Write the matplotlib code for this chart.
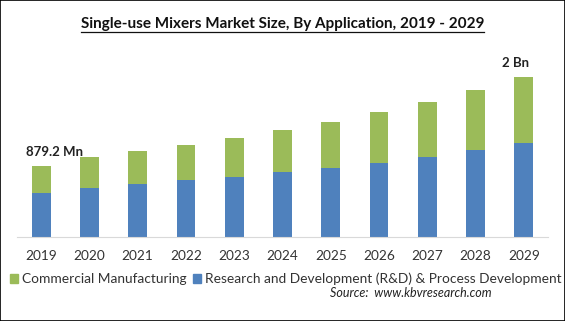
import matplotlib
matplotlib.use("Agg")
import matplotlib.pyplot as plt
from matplotlib.patches import Patch, Rectangle
from matplotlib.lines import Line2D
import numpy as np

plt.rcParams['font.family'] = ['Lato', 'DejaVu Sans']

years = ["2019", "2020", "2021", "2022", "2023", "2024", "2025", "2026", "2027", "2028", "2029"]
rd_process = [548, 607, 660, 706, 743, 805, 858, 920, 990, 1081, 1164]
commercial = [331, 383, 405, 433, 482, 520, 566, 628, 681, 739, 817]
series_names = ["Commercial Manufacturing", "Research and Development (R&D) & Process Development"]
first_label = "879.2 Mn"
last_label = "2 Bn"

green = "#9BBB59"
blue = "#4F81BD"

W, H = 565, 321
fig = plt.figure(figsize=(W / 100, H / 100), dpi=100)
ax = fig.add_axes([17 / W, (H - 237) / H, (548 - 17) / W, (237 - 60) / H])

x = np.arange(len(years))
rd = np.array(rd_process)
cm = np.array(commercial)
total = rd + cm

ax.bar(x, rd, width=0.39, color=blue)
ax.bar(x, cm, bottom=rd, width=0.39, color=green)

ax.set_xlim(-0.5, len(years) - 0.5)
ax.set_ylim(0, 177 * 879.2 / 71)
ax.set_xticks(x)
ax.set_xticklabels(years, fontsize=9.8, color="#333333")
ax.tick_params(axis="x", length=0, pad=9)
ax.set_yticks([])
for s in ["top", "left", "right"]:
    ax.spines[s].set_visible(False)
ax.spines["bottom"].set_color("#D9D9D9")

ax.annotate(first_label, xy=(x[0], total[0]), xytext=(13, 14), textcoords="offset pixels",
            ha="center", va="center", fontsize=9.5, fontweight="bold", color="#222222")
ax.annotate(last_label, xy=(x[-1], total[-1]), xytext=(-8, 14), textcoords="offset pixels",
            ha="center", va="center", fontsize=9.5, fontweight="bold", color="#222222")

title = fig.text(0.5, 1 - 24 / H, "Single-use Mixers Market Size, By Application, 2019 - 2029",
                 ha="center", va="center", fontsize=11, fontweight="bold", color="#111111")

handles = [Patch(color=green), Patch(color=blue)]
fig.legend(handles, series_names, loc="center left", bbox_to_anchor=(10 / W, 1 - 279 / H),
           ncol=2, frameon=False, fontsize=9.9, handlelength=0.6, handleheight=0.6,
           handletextpad=0.25, columnspacing=0.5, borderaxespad=0, borderpad=0,
           labelcolor="#333333")

fig.text(411 / W, 1 - 293 / H, "Source:  www.kbvresearch.com", ha="center", va="center",
         fontsize=9, style="italic", color="#222222")

fig.patches.append(Rectangle((0, 0), 1, 1, transform=fig.transFigure, fill=False,
                             edgecolor="black", linewidth=1.2))

# underline the title
renderer = fig.canvas.get_renderer()
bb = title.get_window_extent(renderer)
yline = (bb.y0 - 1) / (H)
fig.add_artist(Line2D([bb.x0 / W, bb.x1 / W], [yline, yline], transform=fig.transFigure,
                      color="#111111", linewidth=0.9))

fig.savefig("out.png", dpi=100)
